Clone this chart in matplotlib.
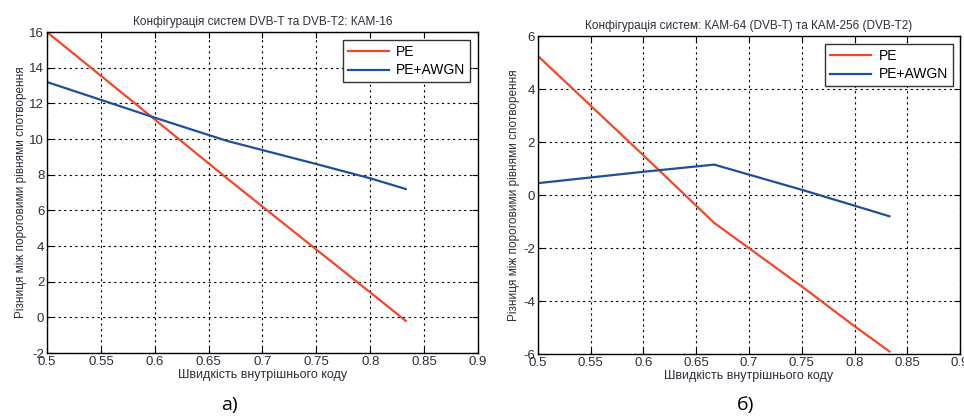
import numpy as np
import matplotlib
matplotlib.use('Agg')
from matplotlib import pyplot as plt

plt.rcParams['font.family'] = ['Liberation Sans', 'DejaVu Sans']
plt.rcParams['axes.unicode_minus'] = False

# code rates of the inner code (1/2, 3/5, 2/3, 3/4, 4/5, 5/6)
rates = [0.5, 0.6, 0.667, 0.75, 0.8, 0.833]

# a) QAM-16
pe_a = [16.0, 11.1, 7.8, 3.8, 1.4, -0.2]
awgn_a = [13.2, 11.2, 9.9, 8.6, 7.8, 7.2]

# b) QAM-64 (DVB-T) vs QAM-256 (DVB-T2)
pe_b = [5.25, 1.5, -1.05, -3.45, -4.95, -5.9]
awgn_b = [0.45, 0.88, 1.15, 0.2, -0.4, -0.8]

xticks = [0.5, 0.55, 0.6, 0.65, 0.7, 0.75, 0.8, 0.85, 0.9]
yticks_a = np.arange(-2, 17, 2)
yticks_b = np.arange(-6, 7, 2)

red = '#f5462a'
blue = '#1f4e9c'
txt = '#2b2f3a'
ylab = 'Різниця між пороговими рівнями спотворення'
xlab = 'Швидкість внутрішнього коду'

fig = plt.figure(figsize=(9.64, 4.2), dpi=100)
ax1 = fig.add_axes([0.0488, 0.1595, 0.447, 0.764])
ax2 = fig.add_axes([0.558, 0.157, 0.438, 0.757])

def style(ax, yt, title):
    ax.set_xlim(0.5, 0.9)
    ax.set_ylim(yt[0], yt[-1])
    ax.set_xticks(xticks)
    ax.set_xticklabels(['%g' % t for t in xticks])
    ax.set_yticks(yt)
    ax.tick_params(direction='in', labelsize=9.5, colors='black', labelcolor=txt,
                   length=4, pad=2, top=True, right=True)
    ax.grid(True, color='black', linestyle=(0, (2, 3)), linewidth=0.8)
    for s in ax.spines.values():
        s.set_linewidth(1.0)
    ax.set_title(title, fontsize=8.5, color=txt, pad=5)
    ax.set_xlabel(xlab, fontsize=9, color=txt, labelpad=1)
    ax.set_ylabel(ylab, fontsize=8.5, color=txt, labelpad=2)
    leg = ax.legend(loc='upper right', fontsize=10, fancybox=False, framealpha=1,
                    edgecolor='#333333', borderpad=0.35, handlelength=3.0,
                    handletextpad=0.5, labelspacing=0.35, borderaxespad=0.55)
    leg.get_frame().set_linewidth(1.0)

ax1.plot(rates, pe_a, color=red, lw=1.6, label='PE')
ax1.plot(rates, awgn_a, color=blue, lw=1.6, label='PE+AWGN')
style(ax1, yticks_a, 'Конфігурація систем DVB-T та DVB-T2: КАМ-16')

ax2.plot(rates, pe_b, color=red, lw=1.6, label='PE')
ax2.plot(rates, awgn_b, color=blue, lw=1.6, label='PE+AWGN')
style(ax2, yticks_b, 'Конфігурація систем: КАМ-64 (DVB-T) та КАМ-256 (DVB-T2)')

fig.text(0.238, 0.035, 'а)', fontsize=14, ha='center', va='center', family='Open Sans')
fig.text(0.773, 0.035, 'б)', fontsize=14, ha='center', va='center', family='Open Sans')

fig.savefig('out.png', dpi=100)
